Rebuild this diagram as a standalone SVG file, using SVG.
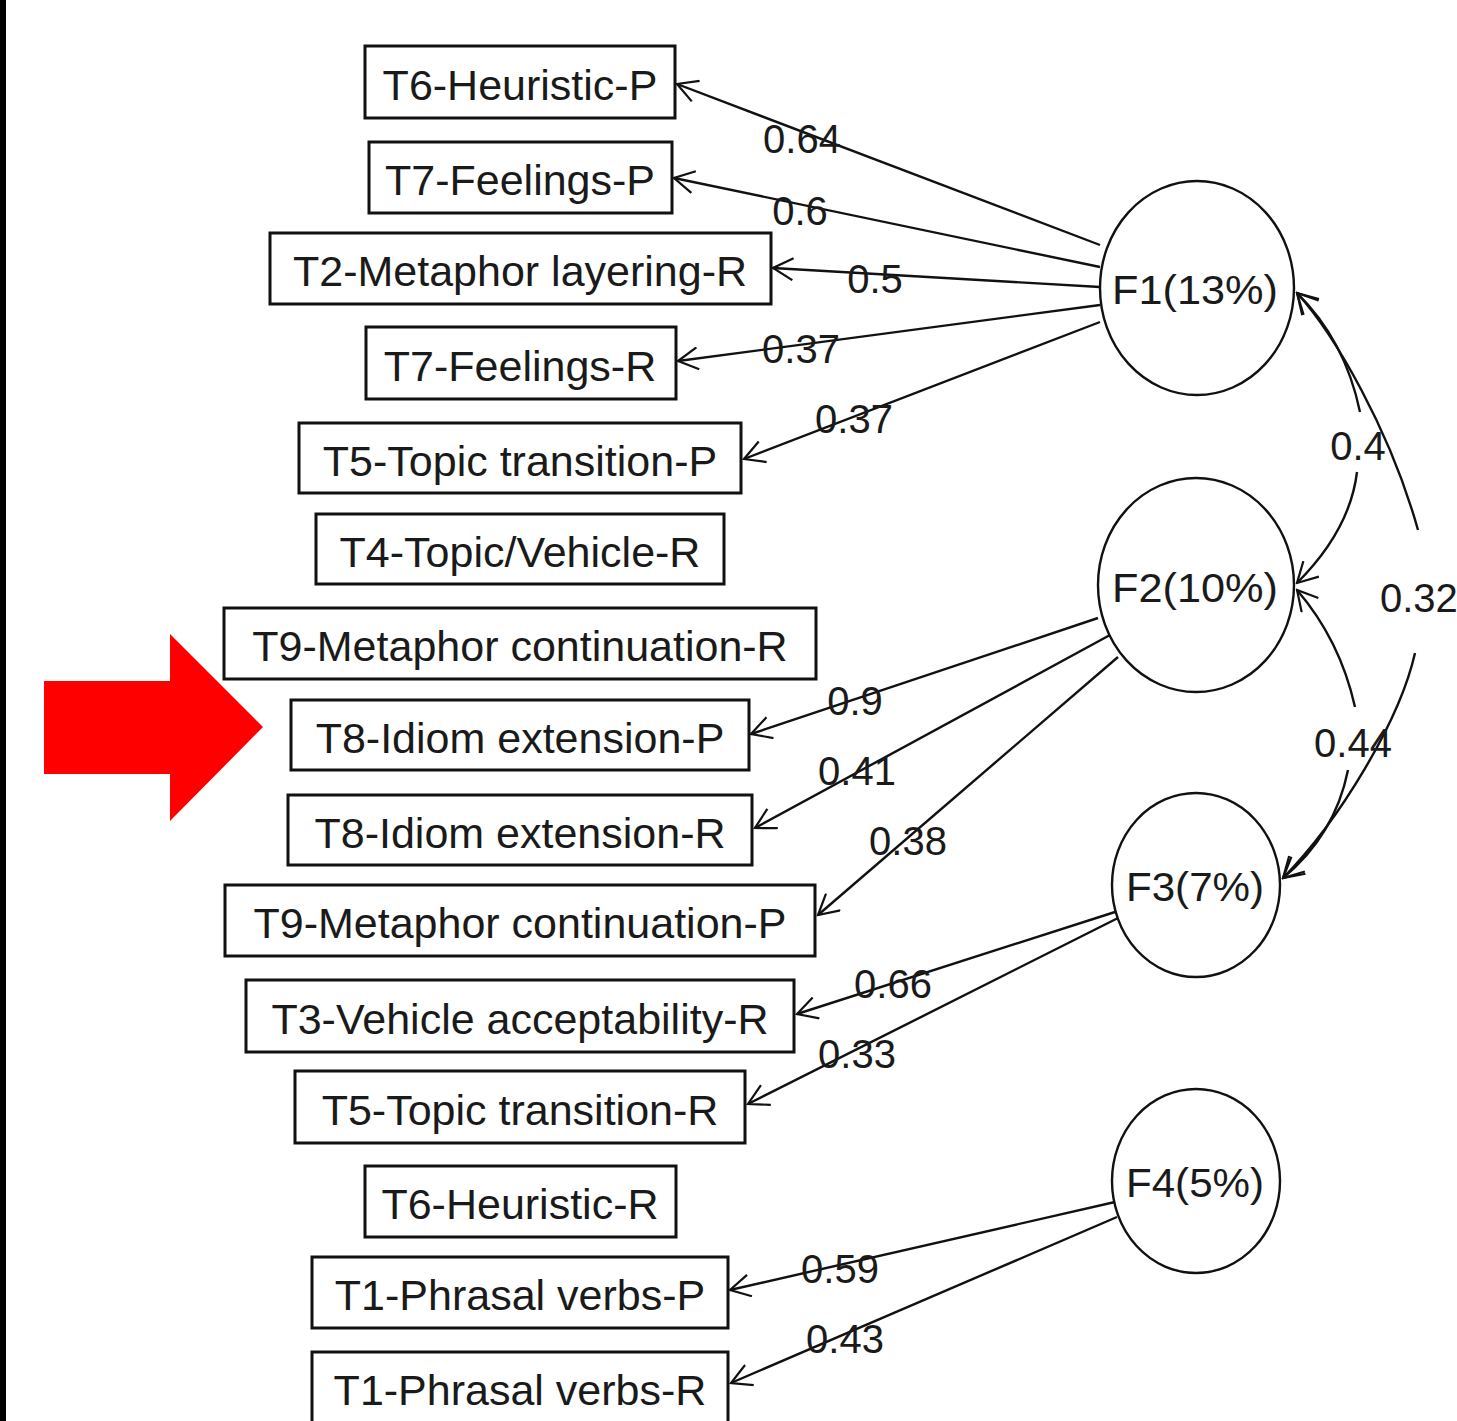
<svg xmlns="http://www.w3.org/2000/svg" width="1457" height="1421" viewBox="0 0 1457 1421">
<defs>
<style>
.box{fill:#fff;stroke:#111;stroke-width:3}
.lat{fill:none;stroke:#111;stroke-width:2.4}
.t{font-family:"Liberation Sans",Arial,sans-serif;font-size:43px;fill:#1a1a1a;text-anchor:middle}
.ft{font-family:"Liberation Sans",Arial,sans-serif;font-size:40px;fill:#1a1a1a;text-anchor:middle}
.lb{font-family:"Liberation Sans",Arial,sans-serif;font-size:40px;fill:#1a1a1a;text-anchor:middle}
.e{fill:none;stroke:#111;stroke-width:2.4;marker-end:url(#ah)}
.c{fill:none;stroke:#111;stroke-width:2.4}
</style>
<marker id="ah" viewBox="0 0 24 24" refX="22" refY="12" markerWidth="24" markerHeight="24" markerUnits="userSpaceOnUse" orient="auto-start-reverse">
<path d="M2,1 L22,12 L2,23" fill="none" stroke="#111" stroke-width="2.2"/>
</marker>
</defs>
<rect x="0" y="0" width="1457" height="1421" fill="#fff"/>
<rect x="0" y="0" width="6" height="1421" fill="#000"/>
<polygon id="red-arrow" points="44,681 170,681 170,634 263,727 170,821 170,774 44,774" fill="#ff0000"/>

<g id="connectors">
<path class="e" d="M1100,245 L677,84"/>
<path class="e" d="M1100,267 L674,178"/>
<path class="e" d="M1100,287 L773,268"/>
<path class="e" d="M1100,305 L678,361"/>
<path class="e" d="M1100,322 L744,459"/>
<path class="e" d="M1098,618 L751,734"/>
<path class="e" d="M1110,635 L755,828"/>
<path class="e" d="M1118,657 L818,915"/>
<path class="e" d="M1115,912 L797,1014"/>
<path class="e" d="M1118,918 L748,1104"/>
<path class="e" d="M1115,1202 L730,1290"/>
<path class="e" d="M1117,1217 L731,1383"/>
<path class="c" d="M1297,293 Q1345,340 1360,412" marker-start="url(#ah)"/>
<path class="c" d="M1357,472 Q1350,530 1297,583" marker-end="url(#ah)"/>
<path class="c" d="M1297,293 C1335,335 1390,430 1418,530" marker-start="url(#ah)"/>
<path class="c" d="M1415,653 C1400,720 1340,820 1283,878" marker-end="url(#ah)"/>
<path class="c" d="M1297,590 Q1340,640 1355,707" marker-start="url(#ah)"/>
<path class="c" d="M1348,770 Q1335,835 1283,878" marker-end="url(#ah)"/>
<g id="edge-labels">
<text class="lb" x="802" y="153">0.64</text>
<text class="lb" x="800" y="225">0.6</text>
<text class="lb" x="875" y="293">0.5</text>
<text class="lb" x="801" y="363">0.37</text>
<text class="lb" x="854" y="433">0.37</text>
<text class="lb" x="855" y="715">0.9</text>
<text class="lb" x="857" y="785">0.41</text>
<text class="lb" x="908" y="855">0.38</text>
<text class="lb" x="893" y="998">0.66</text>
<text class="lb" x="857" y="1068">0.33</text>
<text class="lb" x="840" y="1283">0.59</text>
<text class="lb" x="845" y="1353">0.43</text>
<text class="lb" x="1358" y="460">0.4</text>
<text class="lb" x="1380" y="612" style="text-anchor:start">0.32</text>
<text class="lb" x="1353" y="757">0.44</text>
</g>
</g>

<g id="F1"><ellipse class="lat" cx="1197" cy="288" rx="97" ry="107"/><text class="ft" x="1195" y="304" textLength="166" lengthAdjust="spacingAndGlyphs">F1(13%)</text></g>
<g id="F2"><ellipse class="lat" cx="1196" cy="585" rx="98" ry="107"/><text class="ft" x="1195" y="602" textLength="166" lengthAdjust="spacingAndGlyphs">F2(10%)</text></g>
<g id="F3"><ellipse class="lat" cx="1196" cy="885" rx="84" ry="92"/><text class="ft" x="1195" y="901" textLength="138" lengthAdjust="spacingAndGlyphs">F3(7%)</text></g>
<g id="F4"><ellipse class="lat" cx="1196" cy="1181" rx="84" ry="92"/><text class="ft" x="1195" y="1197" textLength="138" lengthAdjust="spacingAndGlyphs">F4(5%)</text></g>

<g id="T6-Heuristic-P"><rect class="box" x="365" y="46" width="310" height="72"/><text class="t" x="520" y="100">T6-Heuristic-P</text></g>
<g id="T7-Feelings-P"><rect class="box" x="369" y="142" width="303" height="71"/><text class="t" x="520" y="195">T7-Feelings-P</text></g>
<g id="T2-Metaphor-layering-R"><rect class="box" x="270" y="233" width="501" height="71"/><text class="t" x="520" y="286">T2-Metaphor layering-R</text></g>
<g id="T7-Feelings-R"><rect class="box" x="366" y="327" width="310" height="72"/><text class="t" x="520" y="381">T7-Feelings-R</text></g>
<g id="T5-Topic-transition-P"><rect class="box" x="299" y="423" width="442" height="70"/><text class="t" x="520" y="476">T5-Topic transition-P</text></g>
<g id="T4-Topic-Vehicle-R"><rect class="box" x="316" y="514" width="408" height="70"/><text class="t" x="520" y="567">T4-Topic/Vehicle-R</text></g>
<g id="T9-Metaphor-continuation-R"><rect class="box" x="224" y="608" width="592" height="71"/><text class="t" x="520" y="661">T9-Metaphor continuation-R</text></g>
<g id="T8-Idiom-extension-P"><rect class="box" x="291" y="700" width="458" height="70"/><text class="t" x="520" y="753">T8-Idiom extension-P</text></g>
<g id="T8-Idiom-extension-R"><rect class="box" x="288" y="795" width="464" height="70"/><text class="t" x="520" y="848">T8-Idiom extension-R</text></g>
<g id="T9-Metaphor-continuation-P"><rect class="box" x="225" y="885" width="590" height="71"/><text class="t" x="520" y="938">T9-Metaphor continuation-P</text></g>
<g id="T3-Vehicle-acceptability-R"><rect class="box" x="246" y="980" width="548" height="72"/><text class="t" x="520" y="1034">T3-Vehicle acceptability-R</text></g>
<g id="T5-Topic-transition-R"><rect class="box" x="295" y="1071" width="450" height="72"/><text class="t" x="520" y="1125">T5-Topic transition-R</text></g>
<g id="T6-Heuristic-R"><rect class="box" x="365" y="1166" width="311" height="71"/><text class="t" x="520" y="1219">T6-Heuristic-R</text></g>
<g id="T1-Phrasal-verbs-P"><rect class="box" x="312" y="1257" width="416" height="71"/><text class="t" x="520" y="1310">T1-Phrasal verbs-P</text></g>
<g id="T1-Phrasal-verbs-R"><rect class="box" x="312" y="1352" width="416" height="80"/><text class="t" x="520" y="1405">T1-Phrasal verbs-R</text></g>
</svg>
